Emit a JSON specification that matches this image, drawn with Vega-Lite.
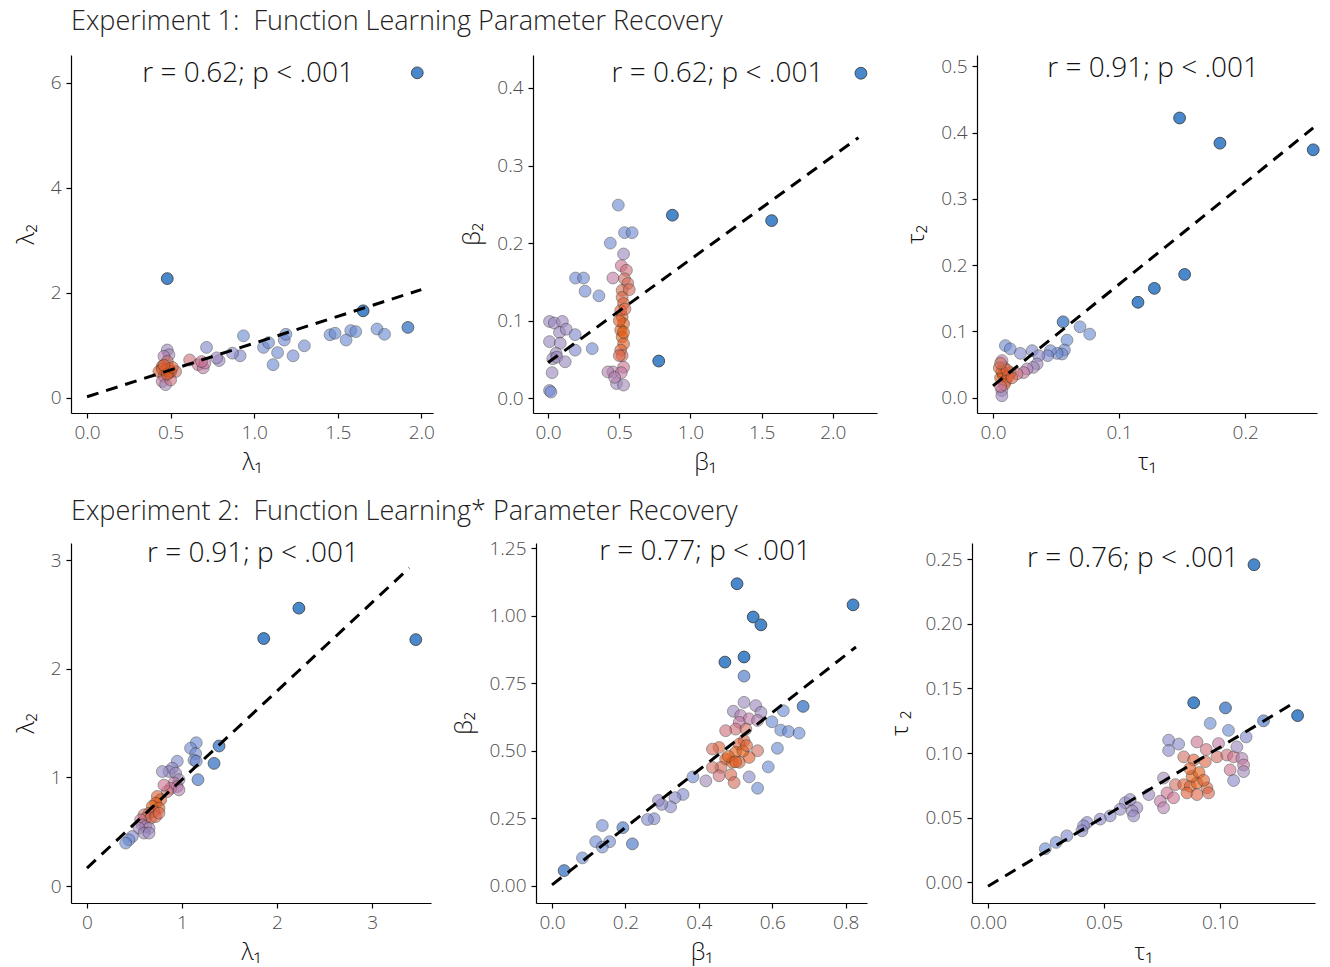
{
"$schema":"https://vega.github.io/schema/vega-lite/v6.json",
"padding":{"left":14,"top":8,"right":5,"bottom":5},
"background":"white",
"config":{
 "view":{"stroke":null},
 "font":"Open Sans",
 "axis":{"grid":false,"domainColor":"black","domainWidth":1.2,"tickColor":"black","tickSize":5,"tickWidth":1.2,"labelFont":"Open Sans","labelFontWeight":300,"labelFontSize":19,"labelColor":"#4d4d4d","titleFont":"Open Sans","titleFontWeight":300,"titleFontSize":24,"titleColor":"#111111","labelPadding":5,"labelFlush":false,"labelOverlap":false},
 "axisX":{"titlePadding":8},
 "axisY":{"titlePadding":12},
 "title":{"font":"Open Sans","fontWeight":300,"fontSize":27,"color":"#222222","anchor":"start","frame":"group"},
 "text":{"font":"Open Sans","fontWeight":300,"fontSize":28,"color":"#111111"},
 "circle":{"size":140,"stroke":"#333333","strokeWidth":0.8},
 "line":{"color":"black","strokeWidth":3,"strokeDash":[12,8]}
},
"datasets":{
 "p1":[{"x":1.976,"y":6.19,"d":1},{"x":0.48,"y":2.27,"d":1},{"x":1.652,"y":1.657,"d":1},{"x":1.92,"y":1.34,"d":0.95},
 {"x":1.735,"y":1.31,"d":0.85},{"x":1.78,"y":1.21,"d":0.85},{"x":1.578,"y":1.28,"d":0.85},{"x":1.608,"y":1.26,"d":0.85},{"x":1.55,"y":1.10,"d":0.85},{"x":1.454,"y":1.20,"d":0.85},{"x":1.484,"y":1.23,"d":0.85},{"x":1.30,"y":0.99,"d":0.8},{"x":1.233,"y":0.80,"d":0.8},{"x":1.113,"y":0.63,"d":0.85},{"x":1.14,"y":0.86,"d":0.8},{"x":1.056,"y":0.96,"d":0.8},{"x":1.086,"y":1.05,"d":0.8},{"x":1.18,"y":1.10,"d":0.8},{"x":1.19,"y":1.21,"d":0.85},{"x":0.936,"y":1.18,"d":0.85},{"x":0.916,"y":0.80,"d":0.75},{"x":0.87,"y":0.85,"d":0.7},{"x":0.79,"y":0.71,"d":0.6},{"x":0.775,"y":0.76,"d":0.6},{"x":0.715,"y":0.96,"d":0.75},
 {"x":0.614,"y":0.72,"d":0.35},{"x":0.665,"y":0.63,"d":0.4},{"x":0.695,"y":0.57,"d":0.45},{"x":0.705,"y":0.66,"d":0.45},{"x":0.685,"y":0.69,"d":0.4},
 {"x":0.48,"y":0.91,"d":0.6},{"x":0.49,"y":0.82,"d":0.55},{"x":0.46,"y":0.79,"d":0.5},{"x":0.48,"y":0.69,"d":0.3},{"x":0.45,"y":0.60,"d":0.2},{"x":0.43,"y":0.50,"d":0.1},{"x":0.46,"y":0.41,"d":0.2},{"x":0.49,"y":0.47,"d":0.1},{"x":0.53,"y":0.50,"d":0.25},{"x":0.45,"y":0.31,"d":0.45},{"x":0.47,"y":0.25,"d":0.55},{"x":0.50,"y":0.34,"d":0.35},
 {"x":0.47,"y":0.53,"d":0},{"x":0.49,"y":0.56,"d":0},{"x":0.45,"y":0.55,"d":0.05},{"x":0.50,"y":0.50,"d":0.05},{"x":0.48,"y":0.45,"d":0.05},{"x":0.51,"y":0.58,"d":0.1},{"x":0.46,"y":0.62,"d":0.1}],
 "p2":[{"x":0.493,"y":0.249,"d":0.85},{"x":0.873,"y":0.236,"d":1},{"x":0.537,"y":0.2135,"d":0.8},{"x":0.59,"y":0.2135,"d":0.8},{"x":0.437,"y":0.20,"d":0.8},{"x":0.53,"y":0.186,"d":0.6},
 {"x":0.514,"y":0.171,"d":0.4},{"x":0.55,"y":0.165,"d":0.35},{"x":0.455,"y":0.155,"d":0.45},{"x":0.537,"y":0.154,"d":0.3},{"x":0.56,"y":0.148,"d":0.25},{"x":0.52,"y":0.139,"d":0.2},{"x":0.57,"y":0.14,"d":0.25},
 {"x":0.52,"y":0.13,"d":0.15},{"x":0.53,"y":0.122,"d":0.1},{"x":0.51,"y":0.113,"d":0.1},{"x":0.52,"y":0.105,"d":0.05},{"x":0.53,"y":0.096,"d":0},{"x":0.51,"y":0.088,"d":0},{"x":0.52,"y":0.079,"d":0},{"x":0.53,"y":0.07,"d":0.05},{"x":0.51,"y":0.062,"d":0.1},{"x":0.52,"y":0.055,"d":0.2},{"x":0.50,"y":0.055,"d":0.2},{"x":0.53,"y":0.085,"d":0},{"x":0.50,"y":0.10,"d":0.05},{"x":0.54,"y":0.115,"d":0.15},
 {"x":0.193,"y":0.155,"d":0.8},{"x":0.249,"y":0.155,"d":0.8},{"x":0.26,"y":0.138,"d":0.8},{"x":0.357,"y":0.132,"d":0.8},
 {"x":0.01,"y":0.099,"d":0.6},{"x":0.044,"y":0.097,"d":0.6},{"x":0.10,"y":0.099,"d":0.6},{"x":0.08,"y":0.085,"d":0.6},{"x":0.127,"y":0.089,"d":0.6},{"x":0.19,"y":0.082,"d":0.75},{"x":0.01,"y":0.073,"d":0.6},{"x":0.085,"y":0.071,"d":0.6},{"x":0.19,"y":0.062,"d":0.75},{"x":0.31,"y":0.064,"d":0.8},{"x":0.056,"y":0.058,"d":0.6},{"x":0.033,"y":0.051,"d":0.6},{"x":0.061,"y":0.053,"d":0.6},{"x":0.12,"y":0.047,"d":0.6},{"x":0.028,"y":0.033,"d":0.6},{"x":0.01,"y":0.01,"d":0.75},{"x":0.02,"y":0.008,"d":0.8},
 {"x":0.455,"y":0.034,"d":0.5},{"x":0.42,"y":0.034,"d":0.5},{"x":0.53,"y":0.040,"d":0.4},{"x":0.514,"y":0.033,"d":0.45},{"x":0.48,"y":0.019,"d":0.55},{"x":0.53,"y":0.017,"d":0.55},{"x":0.467,"y":0.027,"d":0.5},
 {"x":0.777,"y":0.048,"d":1},{"x":1.57,"y":0.229,"d":1},{"x":2.197,"y":0.419,"d":1}],
 "p3":[{"x":0.148,"y":0.422,"d":1},{"x":0.180,"y":0.384,"d":1},{"x":0.254,"y":0.374,"d":1},{"x":0.152,"y":0.186,"d":1},{"x":0.128,"y":0.165,"d":1},{"x":0.115,"y":0.144,"d":1},
 {"x":0.0556,"y":0.1145,"d":0.95},{"x":0.069,"y":0.107,"d":0.85},{"x":0.0767,"y":0.096,"d":0.85},{"x":0.0587,"y":0.087,"d":0.85},
 {"x":0.0566,"y":0.072,"d":0.8},{"x":0.0548,"y":0.066,"d":0.8},{"x":0.0508,"y":0.067,"d":0.8},{"x":0.0455,"y":0.071,"d":0.8},{"x":0.0434,"y":0.0635,"d":0.75},
 {"x":0.0098,"y":0.0787,"d":0.8},{"x":0.0137,"y":0.0737,"d":0.8},{"x":0.0217,"y":0.067,"d":0.75},{"x":0.031,"y":0.071,"d":0.75},{"x":0.0363,"y":0.0635,"d":0.7},
 {"x":0.035,"y":0.051,"d":0.6},{"x":0.032,"y":0.0458,"d":0.55},{"x":0.027,"y":0.0434,"d":0.5},{"x":0.0243,"y":0.038,"d":0.45},{"x":0.019,"y":0.036,"d":0.35},{"x":0.0137,"y":0.038,"d":0.3},{"x":0.0085,"y":0.0458,"d":0.35},{"x":0.0071,"y":0.056,"d":0.45},
 {"x":0.006,"y":0.03,"d":0},{"x":0.008,"y":0.035,"d":0},{"x":0.01,"y":0.025,"d":0},{"x":0.007,"y":0.04,"d":0.05},{"x":0.012,"y":0.032,"d":0.05},{"x":0.009,"y":0.02,"d":0.1},{"x":0.005,"y":0.045,"d":0.1},{"x":0.011,"y":0.042,"d":0.1},{"x":0.015,"y":0.03,"d":0.15},{"x":0.006,"y":0.052,"d":0.3},
 {"x":0.007,"y":0.011,"d":0.5},{"x":0.007,"y":0.003,"d":0.6},{"x":0.006,"y":0.017,"d":0.4}],
 "p4":[{"x":1.86,"y":2.28,"d":1},{"x":2.23,"y":2.56,"d":1},{"x":3.46,"y":2.27,"d":1},
 {"x":1.15,"y":1.32,"d":0.85},{"x":1.09,"y":1.27,"d":0.8},{"x":1.144,"y":1.22,"d":0.8},{"x":1.126,"y":1.16,"d":0.8},{"x":1.15,"y":1.15,"d":0.8},{"x":1.39,"y":1.29,"d":0.95},{"x":1.337,"y":1.13,"d":0.95},{"x":1.168,"y":0.98,"d":0.9},
 {"x":0.95,"y":1.15,"d":0.75},{"x":0.898,"y":1.086,"d":0.7},{"x":0.863,"y":1.055,"d":0.65},{"x":0.793,"y":1.055,"d":0.65},{"x":0.933,"y":1.04,"d":0.6},{"x":0.968,"y":0.98,"d":0.55},
 {"x":0.916,"y":0.95,"d":0.45},{"x":0.95,"y":0.917,"d":0.45},{"x":0.88,"y":0.90,"d":0.4},{"x":0.968,"y":0.886,"d":0.5},{"x":0.845,"y":0.87,"d":0.35},{"x":0.81,"y":0.93,"d":0.4},
 {"x":0.74,"y":0.826,"d":0.1},{"x":0.776,"y":0.795,"d":0.05},{"x":0.723,"y":0.764,"d":0},{"x":0.687,"y":0.734,"d":0},{"x":0.758,"y":0.718,"d":0.05},{"x":0.705,"y":0.687,"d":0.05},{"x":0.653,"y":0.672,"d":0.15},{"x":0.60,"y":0.656,"d":0.3},{"x":0.618,"y":0.625,"d":0.3},{"x":0.67,"y":0.625,"d":0.2},{"x":0.723,"y":0.64,"d":0.15},{"x":0.758,"y":0.672,"d":0.2},
 {"x":0.565,"y":0.61,"d":0.4},{"x":0.58,"y":0.564,"d":0.5},{"x":0.618,"y":0.548,"d":0.5},{"x":0.653,"y":0.534,"d":0.55},{"x":0.547,"y":0.534,"d":0.55},{"x":0.60,"y":0.488,"d":0.6},{"x":0.653,"y":0.488,"d":0.6},
 {"x":0.477,"y":0.457,"d":0.75},{"x":0.442,"y":0.426,"d":0.8},{"x":0.407,"y":0.396,"d":0.85}],
 "p5":[{"x":0.504,"y":1.119,"d":1},{"x":0.548,"y":0.996,"d":1},{"x":0.569,"y":0.967,"d":1},{"x":0.471,"y":0.829,"d":1},{"x":0.523,"y":0.848,"d":1},{"x":0.523,"y":0.777,"d":0.9},{"x":0.82,"y":1.041,"d":1},
 {"x":0.684,"y":0.665,"d":0.95},{"x":0.63,"y":0.649,"d":0.85},{"x":0.599,"y":0.608,"d":0.85},{"x":0.623,"y":0.577,"d":0.85},{"x":0.644,"y":0.572,"d":0.85},{"x":0.673,"y":0.566,"d":0.85},{"x":0.614,"y":0.51,"d":0.85},{"x":0.589,"y":0.441,"d":0.85},{"x":0.56,"y":0.362,"d":0.85},{"x":0.537,"y":0.404,"d":0.7},
 {"x":0.523,"y":0.680,"d":0.6},{"x":0.555,"y":0.668,"d":0.6},{"x":0.569,"y":0.643,"d":0.6},{"x":0.494,"y":0.647,"d":0.6},{"x":0.514,"y":0.631,"d":0.5},{"x":0.537,"y":0.619,"d":0.45},{"x":0.56,"y":0.613,"d":0.5},{"x":0.51,"y":0.606,"d":0.45},{"x":0.50,"y":0.581,"d":0.35},{"x":0.473,"y":0.575,"d":0.35},{"x":0.528,"y":0.581,"d":0.3},{"x":0.523,"y":0.538,"d":0.15},{"x":0.51,"y":0.525,"d":0.1},{"x":0.56,"y":0.501,"d":0.3},{"x":0.537,"y":0.476,"d":0.05},{"x":0.50,"y":0.495,"d":0},{"x":0.455,"y":0.513,"d":0.1},{"x":0.437,"y":0.507,"d":0.25},{"x":0.473,"y":0.470,"d":0.05},{"x":0.491,"y":0.458,"d":0},{"x":0.51,"y":0.458,"d":0.05},{"x":0.46,"y":0.439,"d":0.2},{"x":0.437,"y":0.439,"d":0.3},{"x":0.455,"y":0.408,"d":0.35},{"x":0.487,"y":0.412,"d":0.2},{"x":0.496,"y":0.383,"d":0.25},{"x":0.419,"y":0.389,"d":0.55},
 {"x":0.48,"y":0.48,"d":0},{"x":0.52,"y":0.50,"d":0},{"x":0.50,"y":0.46,"d":0.05},{"x":0.53,"y":0.52,"d":0.1},
 {"x":0.384,"y":0.404,"d":0.8},{"x":0.357,"y":0.339,"d":0.75},{"x":0.335,"y":0.327,"d":0.7},{"x":0.323,"y":0.293,"d":0.7},{"x":0.299,"y":0.302,"d":0.7},{"x":0.29,"y":0.317,"d":0.65},{"x":0.278,"y":0.249,"d":0.75},{"x":0.26,"y":0.246,"d":0.75},
 {"x":0.193,"y":0.216,"d":0.9},{"x":0.137,"y":0.224,"d":0.8},{"x":0.119,"y":0.164,"d":0.8},{"x":0.157,"y":0.164,"d":0.8},{"x":0.137,"y":0.144,"d":0.8},{"x":0.219,"y":0.156,"d":0.9},{"x":0.083,"y":0.104,"d":0.85},{"x":0.033,"y":0.057,"d":0.95}],
 "p6":[{"x":0.1147,"y":0.2458,"d":1},{"x":0.0887,"y":0.139,"d":1},{"x":0.1024,"y":0.135,"d":0.95},{"x":0.1335,"y":0.129,"d":1},{"x":0.1188,"y":0.125,"d":0.9},{"x":0.0958,"y":0.123,"d":0.85},{"x":0.1037,"y":0.1176,"d":0.85},{"x":0.1113,"y":0.1125,"d":0.75},
 {"x":0.0779,"y":0.110,"d":0.7},{"x":0.0822,"y":0.107,"d":0.7},{"x":0.0779,"y":0.102,"d":0.7},
 {"x":0.0901,"y":0.1086,"d":0.4},{"x":0.0941,"y":0.1028,"d":0.35},{"x":0.0994,"y":0.1074,"d":0.45},{"x":0.0844,"y":0.0971,"d":0.3},{"x":0.0887,"y":0.0947,"d":0.1},{"x":0.0937,"y":0.0934,"d":0.15},{"x":0.0987,"y":0.0971,"d":0.3},{"x":0.103,"y":0.0985,"d":0.35},{"x":0.1059,"y":0.0971,"d":0.4},{"x":0.1073,"y":0.1048,"d":0.6},{"x":0.1095,"y":0.0959,"d":0.5},{"x":0.1102,"y":0.0908,"d":0.45},{"x":0.1044,"y":0.087,"d":0.4},{"x":0.1102,"y":0.0857,"d":0.55},{"x":0.1059,"y":0.0788,"d":0.7},{"x":0.0757,"y":0.0807,"d":0.55},{"x":0.0808,"y":0.0756,"d":0.3},{"x":0.0844,"y":0.0756,"d":0.1},{"x":0.0872,"y":0.0743,"d":0.05},{"x":0.0901,"y":0.0769,"d":0},{"x":0.0944,"y":0.0731,"d":0.1},{"x":0.0858,"y":0.0692,"d":0.1},{"x":0.0901,"y":0.0679,"d":0.15},{"x":0.0951,"y":0.0692,"d":0.2},{"x":0.0772,"y":0.0692,"d":0.4},{"x":0.08,"y":0.0654,"d":0.4},{"x":0.0693,"y":0.0679,"d":0.6},{"x":0.0743,"y":0.0628,"d":0.45},{"x":0.0757,"y":0.0577,"d":0.5},{"x":0.0642,"y":0.0577,"d":0.6},{"x":0.0621,"y":0.0552,"d":0.6},{"x":0.0628,"y":0.0514,"d":0.65},
 {"x":0.088,"y":0.082,"d":0},{"x":0.091,"y":0.085,"d":0},{"x":0.093,"y":0.079,"d":0.05},{"x":0.087,"y":0.088,"d":0.05},
 {"x":0.0592,"y":0.0616,"d":0.65},{"x":0.0613,"y":0.0641,"d":0.65},{"x":0.057,"y":0.0565,"d":0.65},{"x":0.0527,"y":0.0514,"d":0.7},{"x":0.0484,"y":0.0489,"d":0.7},{"x":0.0427,"y":0.0463,"d":0.7},{"x":0.0412,"y":0.0437,"d":0.7},{"x":0.0405,"y":0.0399,"d":0.7},{"x":0.034,"y":0.036,"d":0.75},{"x":0.0294,"y":0.0309,"d":0.8},{"x":0.0247,"y":0.026,"d":0.85}],
 "l1":[{"x":0,"y":0.02},{"x":2.0,"y":2.06}],
 "l2":[{"x":0,"y":0.046},{"x":2.18,"y":0.336}],
 "l3":[{"x":0,"y":0.018},{"x":0.254,"y":0.407}],
 "l4":[{"x":0,"y":0.166},{"x":3.39,"y":2.93}],
 "l5":[{"x":0,"y":0.004},{"x":0.828,"y":0.885}],
 "l6":[{"x":0,"y":-0.003},{"x":0.133,"y":0.140}],
 "t1":[{"x":0.964,"y":6.17,"label":"r = 0.62; p < .001"}],
 "t2":[{"x":1.19,"y":0.4175,"label":"r = 0.62; p < .001"}],
 "t3":[{"x":0.127,"y":0.496,"label":"r = 0.91; p < .001"}],
 "t4":[{"x":1.747,"y":3.06,"label":"r = 0.91; p < .001"}],
 "t5":[{"x":0.417,"y":1.238,"label":"r = 0.77; p < .001"}],
 "t6":[{"x":0.0625,"y":0.250,"label":"r = 0.76; p < .001"}]
},
"vconcat":[
 {"hconcat":[
  {"width":362,"height":358,
   "title":{"text":"Experiment 1:\u00a0 Function Learning Parameter Recovery","offset":19},
   "layer":[
    {"data":{"name":"p1"},"mark":"circle","encoding":{
      "x":{"field":"x","type":"quantitative","title":"λ₁","scale":{"domain":[-0.096,2.07],"nice":false,"zero":false},"axis":{"values":[0,0.5,1,1.5,2],"format":".1f"}},
      "y":{"field":"y","type":"quantitative","title":"λ₂","scale":{"domain":[-0.29,6.53],"nice":false,"zero":false},"axis":{"values":[0,2,4,6],"format":"d"}},
      "color":{"field":"d","type":"quantitative","legend":null,"scale":{"domain":[0,0.3,0.55,0.8,1],"range":["#e45a10","#cf6d5f","#a086b8","#6c86cf","#4a88cc"]}},
      "opacity":{"field":"d","type":"quantitative","legend":null,"scale":{"domain":[0,0.85,1],"range":[0.6,0.6,1]}}}},
    {"data":{"name":"l1"},"mark":"line","encoding":{"x":{"field":"x","type":"quantitative"},"y":{"field":"y","type":"quantitative"}}},
    {"data":{"name":"t1"},"mark":"text","encoding":{"x":{"field":"x","type":"quantitative"},"y":{"field":"y","type":"quantitative"},"text":{"field":"label"}}}
   ]},
  {"width":344,"height":358,
   "layer":[
    {"data":{"name":"p2"},"mark":"circle","encoding":{
      "x":{"field":"x","type":"quantitative","title":"β₁","scale":{"domain":[-0.106,2.31],"nice":false,"zero":false},"axis":{"values":[0,0.5,1,1.5,2],"format":".1f"}},
      "y":{"field":"y","type":"quantitative","title":"β₂","scale":{"domain":[-0.019,0.4425],"nice":false,"zero":false},"axis":{"values":[0,0.1,0.2,0.3,0.4],"format":".1f"}},
      "color":{"field":"d","type":"quantitative","legend":null,"scale":{"domain":[0,0.3,0.55,0.8,1],"range":["#e45a10","#cf6d5f","#a086b8","#6c86cf","#4a88cc"]}},
      "opacity":{"field":"d","type":"quantitative","legend":null,"scale":{"domain":[0,0.85,1],"range":[0.6,0.6,1]}}}},
    {"data":{"name":"l2"},"mark":"line","encoding":{"x":{"field":"x","type":"quantitative"},"y":{"field":"y","type":"quantitative"}}},
    {"data":{"name":"t2"},"mark":"text","encoding":{"x":{"field":"x","type":"quantitative"},"y":{"field":"y","type":"quantitative"},"text":{"field":"label"}}}
   ]},
  {"width":340,"height":358,
   "layer":[
    {"data":{"name":"p3"},"mark":"circle","encoding":{
      "x":{"field":"x","type":"quantitative","title":"τ₁","scale":{"domain":[-0.0127,0.257],"nice":false,"zero":false},"axis":{"values":[0,0.1,0.2],"format":".1f"}},
      "y":{"field":"y","type":"quantitative","title":"τ₂","scale":{"domain":[-0.023,0.517],"nice":false,"zero":false},"axis":{"values":[0,0.1,0.2,0.3,0.4,0.5],"format":".1f"}},
      "color":{"field":"d","type":"quantitative","legend":null,"scale":{"domain":[0,0.3,0.55,0.8,1],"range":["#e45a10","#cf6d5f","#a086b8","#6c86cf","#4a88cc"]}},
      "opacity":{"field":"d","type":"quantitative","legend":null,"scale":{"domain":[0,0.85,1],"range":[0.6,0.6,1]}}}},
    {"data":{"name":"l3"},"mark":"line","encoding":{"x":{"field":"x","type":"quantitative"},"y":{"field":"y","type":"quantitative"}}},
    {"data":{"name":"t3"},"mark":"text","encoding":{"x":{"field":"x","type":"quantitative"},"y":{"field":"y","type":"quantitative"},"text":{"field":"label"}}}
   ]}
 ],"spacing":100,"bounds":"flush","resolve":{"scale":{"color":"independent","opacity":"independent"}}},
 {"hconcat":[
  {"width":360,"height":360,
   "title":{"text":"Experiment 2:\u00a0 Function Learning* Parameter Recovery","offset":14},
   "layer":[
    {"data":{"name":"p4"},"mark":"circle","encoding":{
      "x":{"field":"x","type":"quantitative","title":"λ₁","scale":{"domain":[-0.168,3.62],"nice":false,"zero":false},"axis":{"values":[0,1,2,3],"format":"d"}},
      "y":{"field":"y","type":"quantitative","title":"λ₂","scale":{"domain":[-0.156,3.16],"nice":false,"zero":false},"axis":{"values":[0,1,2,3],"format":"d"}},
      "color":{"field":"d","type":"quantitative","legend":null,"scale":{"domain":[0,0.3,0.55,0.8,1],"range":["#e45a10","#cf6d5f","#a086b8","#6c86cf","#4a88cc"]}},
      "opacity":{"field":"d","type":"quantitative","legend":null,"scale":{"domain":[0,0.85,1],"range":[0.6,0.6,1]}}}},
    {"data":{"name":"l4"},"mark":"line","encoding":{"x":{"field":"x","type":"quantitative"},"y":{"field":"y","type":"quantitative"}}},
    {"data":{"name":"t4"},"mark":"text","encoding":{"x":{"field":"x","type":"quantitative"},"y":{"field":"y","type":"quantitative"},"text":{"field":"label"}}}
   ]},
  {"width":331,"height":360,
   "layer":[
    {"data":{"name":"p5"},"mark":"circle","encoding":{
      "x":{"field":"x","type":"quantitative","title":"β₁","scale":{"domain":[-0.0436,0.858],"nice":false,"zero":false},"axis":{"values":[0,0.2,0.4,0.6,0.8],"format":".1f"}},
      "y":{"field":"y","type":"quantitative","title":"β₂","scale":{"domain":[-0.063,1.27],"nice":false,"zero":false},"axis":{"values":[0,0.25,0.5,0.75,1,1.25],"format":".2f"}},
      "color":{"field":"d","type":"quantitative","legend":null,"scale":{"domain":[0,0.3,0.55,0.8,1],"range":["#e45a10","#cf6d5f","#a086b8","#6c86cf","#4a88cc"]}},
      "opacity":{"field":"d","type":"quantitative","legend":null,"scale":{"domain":[0,0.85,1],"range":[0.6,0.6,1]}}}},
    {"data":{"name":"l5"},"mark":"line","encoding":{"x":{"field":"x","type":"quantitative"},"y":{"field":"y","type":"quantitative"}}},
    {"data":{"name":"t5"},"mark":"text","encoding":{"x":{"field":"x","type":"quantitative"},"y":{"field":"y","type":"quantitative"},"text":{"field":"label"}}}
   ]},
  {"width":343,"height":360,
   "layer":[
    {"data":{"name":"p6"},"mark":"circle","encoding":{
      "x":{"field":"x","type":"quantitative","title":"τ₁","scale":{"domain":[-0.0069,0.141],"nice":false,"zero":false},"axis":{"values":[0,0.05,0.1],"format":".2f"}},
      "y":{"field":"y","type":"quantitative","title":"τ ₂","scale":{"domain":[-0.016,0.2626],"nice":false,"zero":false},"axis":{"values":[0,0.05,0.1,0.15,0.2,0.25],"format":".2f"}},
      "color":{"field":"d","type":"quantitative","legend":null,"scale":{"domain":[0,0.3,0.55,0.8,1],"range":["#e45a10","#cf6d5f","#a086b8","#6c86cf","#4a88cc"]}},
      "opacity":{"field":"d","type":"quantitative","legend":null,"scale":{"domain":[0,0.85,1],"range":[0.6,0.6,1]}}}},
    {"data":{"name":"l6"},"mark":"line","encoding":{"x":{"field":"x","type":"quantitative"},"y":{"field":"y","type":"quantitative"}}},
    {"data":{"name":"t6"},"mark":"text","encoding":{"x":{"field":"x","type":"quantitative"},"y":{"field":"y","type":"quantitative"},"text":{"field":"label"}}}
   ]}
 ],"spacing":105,"bounds":"flush","resolve":{"scale":{"color":"independent","opacity":"independent"}}}
],
"spacing":23
}
